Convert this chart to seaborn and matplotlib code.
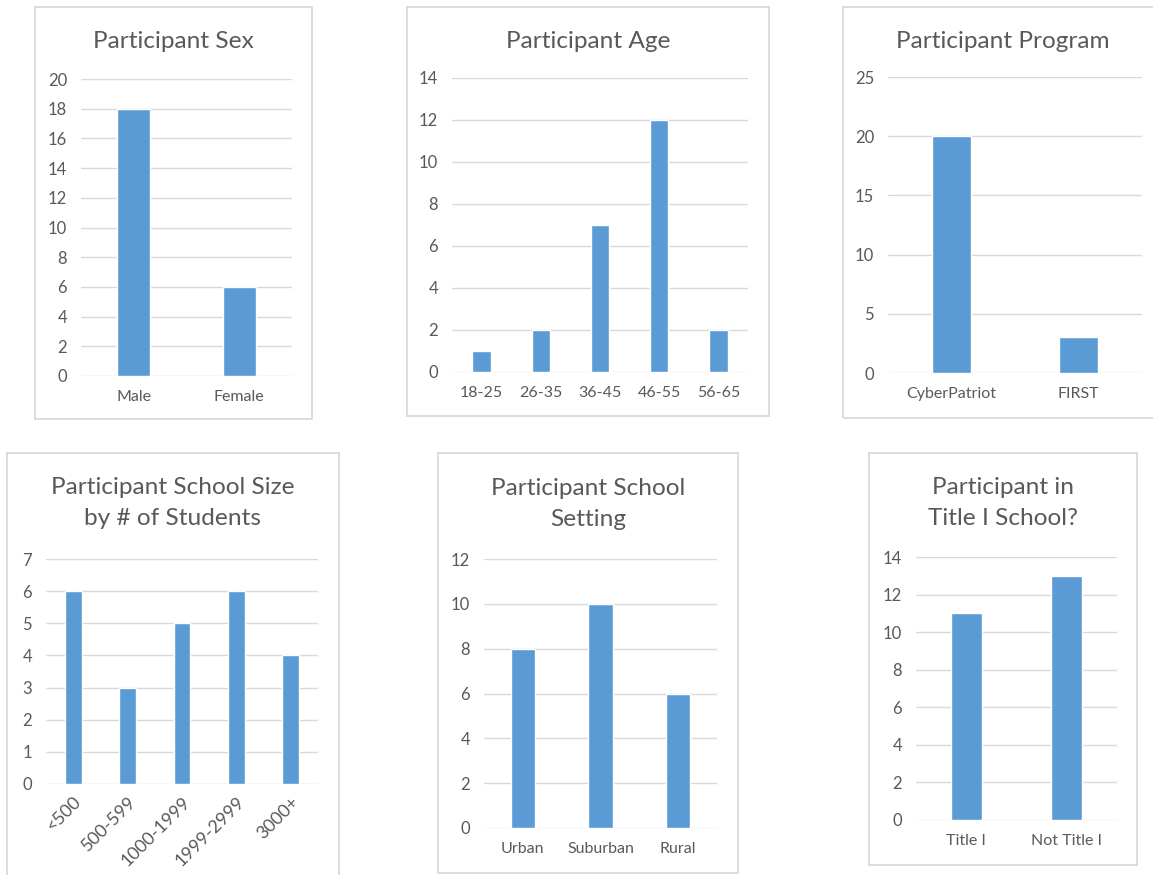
import matplotlib
matplotlib.use("Agg")
import matplotlib.pyplot as plt
import seaborn as sns
import pandas as pd
from matplotlib.patches import Rectangle

# Chart data

sex_labels = ["Male", "Female"]
sex_counts = [18, 6]

age_labels = ["18-25", "26-35", "36-45", "46-55", "56-65"]
age_counts = [1, 2, 7, 12, 2]

program_labels = ["CyberPatriot", "FIRST"]
program_counts = [20, 3]

size_labels = ["<500", "500-599", "1000-1999", "1999-2999", "3000+"]
size_counts = [6, 3, 5, 6, 4]

setting_labels = ["Urban", "Suburban", "Rural"]
setting_counts = [8, 10, 6]

title1_labels = ["Title I", "Not Title I"]
title1_counts = [11, 13]

sns.set_theme(style="white")
plt.rcParams["font.family"] = ["Lato", "DejaVu Sans"]

W, H = 1153, 875
fig = plt.figure(figsize=(W / 100, H / 100), dpi=100)
fig.patch.set_facecolor("white")

BAR = "#5B9BD5"
GRID = "#D9D9D9"
TEXT = "#595959"


def px_rect(l, t, r, b):
    return [l / W, 1 - b / H, (r - l) / W, (b - t) / H]


def panel(labels, counts, ymax, ystep, axbox, border, title, title_xy, rotate=False):
    # chart frame
    l, t, r, b = border
    fig.patches.append(Rectangle((l / W, 1 - b / H), (r - l) / W, (b - t) / H,
                                 transform=fig.transFigure, fill=False,
                                 edgecolor=GRID, linewidth=1.3, zorder=0))
    fig.text(title_xy[0] / W, 1 - title_xy[1] / H, title, ha="center", va="center",
             fontsize=17.6, color=TEXT, linespacing=1.58)

    ax = fig.add_axes(px_rect(*axbox))
    df = pd.DataFrame({"cat": labels, "n": counts})
    sns.barplot(data=df, x="cat", y="n", color=BAR, width=0.31,
                saturation=1, ax=ax, zorder=3)
    ax.set_xlim(-0.5, len(labels) - 0.5)
    ax.set_ylim(0, ymax)
    ax.set_yticks(range(0, ymax + 1, ystep))
    for v in range(0, ymax + 1, ystep):
        ax.axhline(v, color=GRID, linewidth=1.0, zorder=1)
    for s in ax.spines.values():
        s.set_visible(False)
    ax.set_xlabel("")
    ax.set_ylabel("")
    ax.tick_params(axis="y", length=0, pad=10, labelsize=12, labelcolor=TEXT)
    ax.tick_params(axis="x", length=0, pad=10, labelsize=11.5, labelcolor=TEXT)
    if rotate:
        plt.setp(ax.get_xticklabels(), rotation=45, ha="right", rotation_mode="anchor")
        ax.tick_params(axis="x", pad=7, labelsize=13)
    ax.patch.set_alpha(0)
    return ax


panel(sex_labels, sex_counts, 20, 2, (81, 79, 292, 376), (35, 7, 312, 419),
      "Participant Sex", (173, 41))

panel(age_labels, age_counts, 14, 2, (452, 78, 748, 372), (407, 7, 769, 416),
      "Participant Age", (588, 41))

panel(program_labels, program_counts, 25, 5, (888, 77, 1142, 373), (843, 7, 1165, 418),
      "Participant Program", (1003, 41))

panel(size_labels, size_counts, 7, 1, (46, 559, 318, 784), (7, 453, 339, 885),
      "Participant School Size\nby # of Students", (173, 503), rotate=True)

panel(setting_labels, setting_counts, 12, 2, (484, 559, 717, 828), (438, 453, 738, 873),
      "Participant School\nSetting", (588, 504))

panel(title1_labels, title1_counts, 14, 2, (916, 557, 1117, 820), (869, 453, 1137, 865),
      "Participant in\nTitle I School?", (1003, 503))

fig.savefig("out.png", dpi=100, facecolor="white")
